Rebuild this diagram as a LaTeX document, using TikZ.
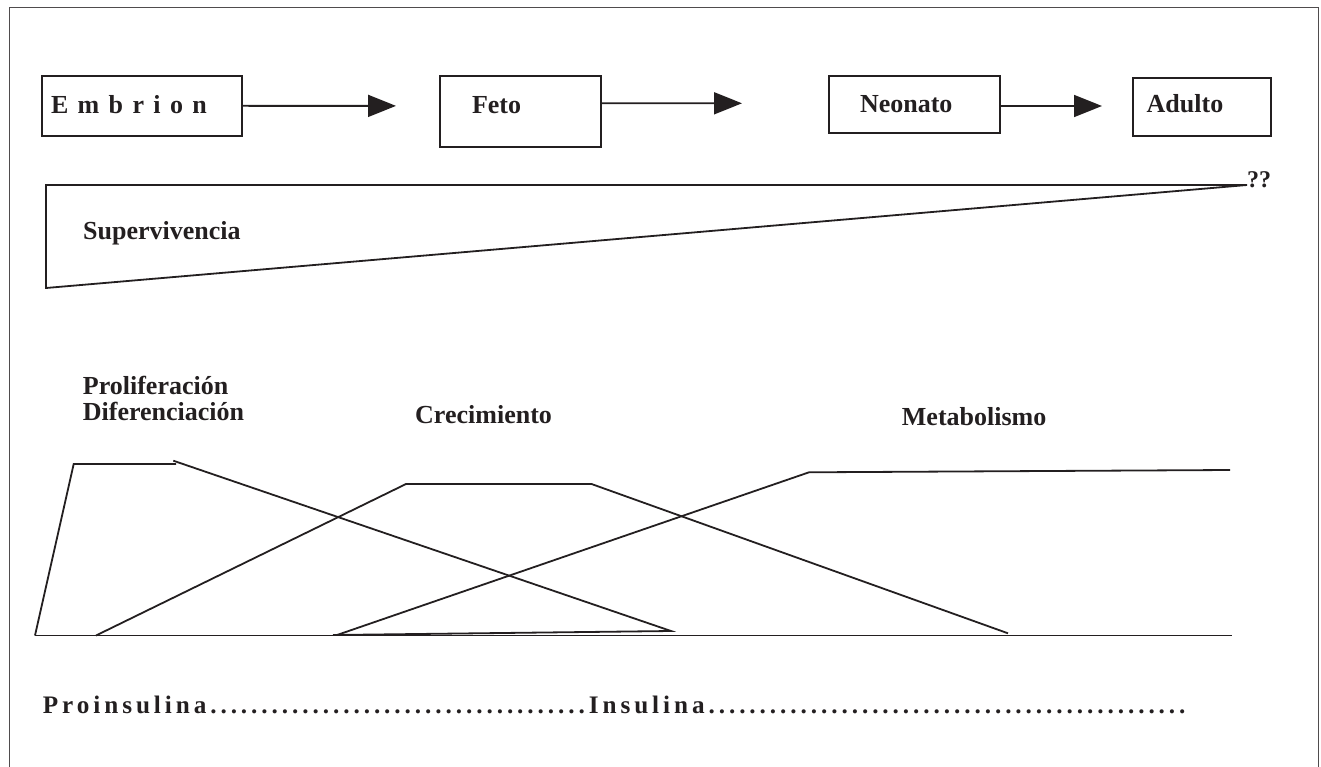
\documentclass[tikz,border=0pt]{standalone}
\usepackage{fontspec}
\setmainfont{Liberation Serif}
\usetikzlibrary{arrows.meta}
\definecolor{ink}{RGB}{35,31,32}
\newcommand\fivedots{.....}
\begin{document}
\begin{tikzpicture}[x=1pt,y=1pt,
  stagebox/.style={draw=ink, line width=1.8pt, inner ysep=0pt, outer sep=0pt,
    align=left, anchor=base west, text=ink, font=\fontsize{26}{30}\selectfont\bfseries},
  lbl/.style={text=ink, inner sep=0pt, anchor=base west, font=\fontsize{26}{28}\selectfont\bfseries},
  arr/.style={draw=ink, line width=1.8pt, -{Triangle[length=28pt,width=22pt]}},
  curve/.style={draw=ink, line width=1.8pt, line join=miter},
  frame/.style={draw=ink!80, line width=1pt}]
\useasboundingbox (0,0) rectangle (1321,-767);
% outer frame
\draw[frame] (9,-770) -- (9,-8) -- (1318,-8) -- (1318,-770);

% stage boxes
\node[stagebox, inner xsep=9.3pt, text width=181.4pt, text height=37.3pt, text depth=22.4pt]
  (embrion) at (41.7,-113.3) {\addfontfeature{LetterSpace=36}Embrion};
\node[stagebox, inner xsep=32pt, text width=97pt, text height=37.6pt, text depth=33.7pt]
  (feto) at (440,-113.3) {Feto};
\node[stagebox, inner xsep=31pt, text width=109pt, text height=36.3pt, text depth=20.7pt]
  (neonato) at (829,-112.3) {Neonato};
\node[stagebox, inner xsep=14pt, text width=110.6pt, text height=35pt, text depth=22.7pt]
  (adulto) at (1132.7,-113) {Adulto};

\coordinate (a1) at (396,-105.9);
\coordinate (a2) at (742,-103.3);
\coordinate (a3) at (1102,-106);
\draw[arr] (embrion.east) -- (a1);
\draw[arr] ([yshift=8pt]feto.east) -- (a2);
\draw[arr] ([yshift=-1.5pt]neonato.east) -- (a3);

% survival wedge
\draw[curve] (46,-185) -- (1247,-185) -- (46,-288) -- cycle;
\node[lbl] (superv) at (83,-240) {Supervivencia};
\node[lbl, font=\fontsize{24}{26}\selectfont\bfseries] (qq) at (1247,-188) {??};

% phase labels
\node[lbl] (prolif) at (82.7,-394.3) {Proliferación};
\node[lbl] (difer) at (82.7,-420) {Diferenciación};
\node[lbl] (crec) at (415,-423.3) {Crecimiento};
\node[lbl] (metab) at (901.7,-425) {Metabolismo};

% curves
\draw[curve] (35,-635.5) -- (1232,-635.5);
\draw[curve] (35,-635.5) -- (73.7,-464) -- (176,-464);
\draw[curve] (173.3,-460.7) -- (671,-631) -- (333,-635);
\draw[curve] (96,-635.5) -- (406,-484) -- (591.5,-484) -- (1008,-633.3);
\draw[curve] (337,-635) -- (809,-472.3) -- (1230,-470);

% bottom line of text
\node[lbl, font=\fontsize{25.2}{28}\selectfont\bfseries\addfontfeature{LetterSpace=15.6}] (insul) at (42.7,-713)
  {Proinsulina\fivedots\fivedots\fivedots\fivedots\fivedots\fivedots\fivedots..Insulina\fivedots\fivedots\fivedots\fivedots\fivedots\fivedots\fivedots\fivedots\fivedots..};
\end{tikzpicture}
\end{document}
